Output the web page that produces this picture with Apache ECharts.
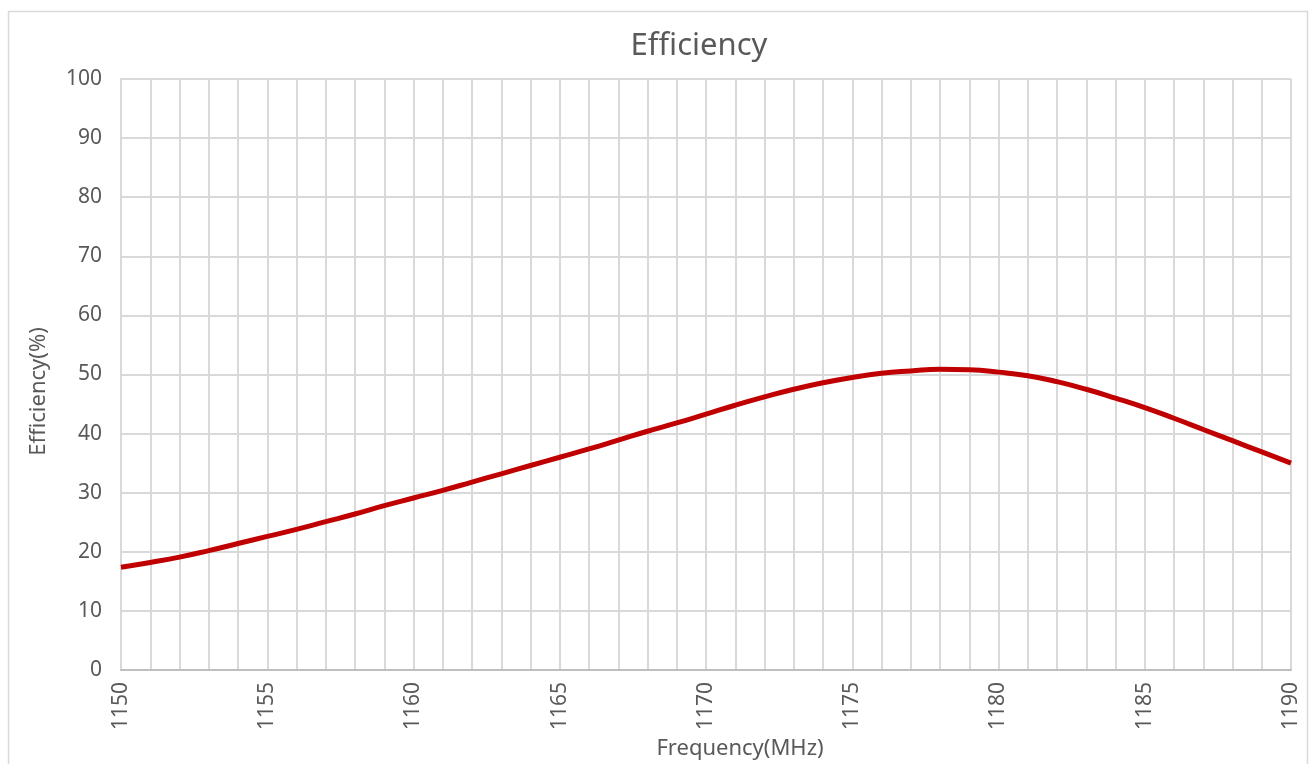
<!DOCTYPE html>
<html>
<head>
<meta charset="utf-8">
<script src="https://cdn.jsdelivr.net/npm/echarts@6/dist/echarts.min.js"></script>
<style>
  html, body { margin: 0; padding: 0; background: #fff; }
  #chart { width: 1310px; height: 764px; }
</style>
</head>
<body>
<div id="chart"></div>
<script>
    // frequency points (MHz) and efficiency (%)
    var freq = [1150, 1151, 1152, 1153, 1154, 1155, 1156, 1157, 1158, 1159,
                1160, 1161, 1162, 1163, 1164, 1165, 1166, 1167, 1168, 1169,
                1170, 1171, 1172, 1173, 1174, 1175, 1176, 1177, 1178, 1179,
                1180, 1181, 1182, 1183, 1184, 1185, 1186, 1187, 1188, 1189, 1190];
    var efficiency = [17.4, 18.2, 19.1, 20.2, 21.4, 22.6, 23.8, 25.1, 26.4, 27.8,
                      29.1, 30.4, 31.8, 33.2, 34.6, 36.0, 37.4, 38.9, 40.4, 41.8,
                      43.3, 44.8, 46.2, 47.5, 48.6, 49.5, 50.2, 50.6, 50.9, 50.8,
                      50.4, 49.8, 48.8, 47.5, 46.0, 44.4, 42.6, 40.7, 38.8, 36.9, 35.0];
    var xLabelStep = 5;
    var yTicks = [0, 10, 20, 30, 40, 50, 60, 70, 80, 90, 100];

    var textColor = '#595959';
    var gridColor = '#d9d9d9';
    var fontFamily = '"Noto Sans", "Noto Sans CJK SC", sans-serif';

    var points = [];
    for (var i = 0; i < freq.length; i++) {
        points.push([freq[i], efficiency[i]]);
    }

    var myChart = echarts.init(document.getElementById('chart'));
    var option = {
        backgroundColor: '#fff',
        animation: false,
        title: {
            text: 'Efficiency',
            left: 694,
            top: 26,
            textAlign: 'center',
            textStyle: {
                color: textColor,
                fontSize: 31,
                fontWeight: 'normal',
                fontFamily: fontFamily
            }
        },
        graphic: [
            {
                type: 'rect',
                shape: { x: 8.5, y: 11.5, width: 1299, height: 770 },
                style: { fill: 'none', stroke: gridColor, lineWidth: 1.5 },
                silent: true
            }
        ],
        grid: {
            left: 121,
            right: 19,
            top: 79,
            bottom: 94,
            containLabel: false,
            outerBoundsMode: 'none'
        },
        xAxis: {
            type: 'value',
            min: freq[0],
            max: freq[freq.length - 1],
            interval: 1,
            name: 'Frequency(MHz)',
            nameLocation: 'middle',
            nameGap: 66,
            nameTextStyle: {
                color: textColor,
                fontSize: 22,
                fontFamily: fontFamily,
                padding: [0, 0, 0, 68]
            },
            axisLine: { show: true, lineStyle: { color: '#bfbfbf', width: 2 } },
            axisTick: { show: false },
            axisLabel: {
                rotate: 90,
                margin: 12,
                color: textColor,
                fontSize: 21,
                fontFamily: fontFamily,
                formatter: function (v) {
                    return (v - freq[0]) % xLabelStep === 0 ? String(v) : '';
                }
            },
            splitLine: { show: true, lineStyle: { color: gridColor, width: 2 } }
        },
        yAxis: {
            type: 'value',
            min: yTicks[0],
            max: yTicks[yTicks.length - 1],
            interval: yTicks[1] - yTicks[0],
            name: 'Efficiency(%)',
            nameLocation: 'middle',
            nameGap: 71,
            nameTextStyle: {
                color: textColor,
                fontSize: 22,
                fontFamily: fontFamily,
                padding: [0, 34, 0, 0]
            },
            axisLine: { show: true, lineStyle: { color: gridColor, width: 2 } },
            axisTick: { show: false },
            axisLabel: {
                margin: 19,
                color: textColor,
                fontSize: 21,
                fontFamily: fontFamily
            },
            splitLine: { show: true, lineStyle: { color: gridColor, width: 2 } }
        },
        series: [
            {
                name: 'Efficiency',
                type: 'line',
                smooth: 0.5,
                showSymbol: false,
                data: points,
                lineStyle: { color: '#c00000', width: 5 },
                itemStyle: { color: '#c00000' }
            }
        ]
    };
    myChart.setOption(option);
</script>
</body>
</html>
